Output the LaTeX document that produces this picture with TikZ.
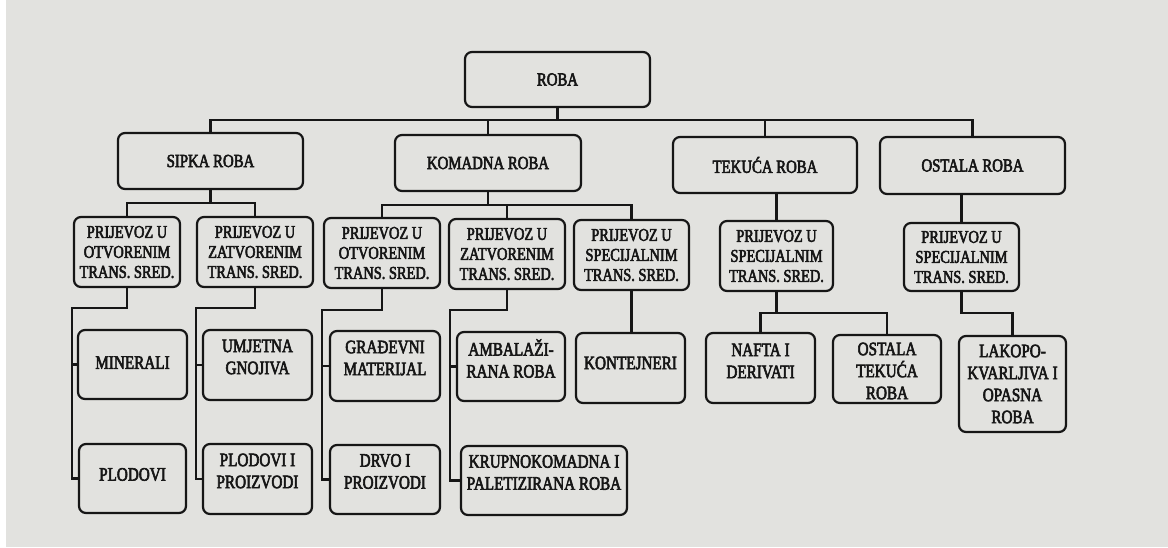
\documentclass[tikz,border=0pt]{standalone}
\usepackage{fontspec}
\setmainfont{Liberation Serif}[FakeStretch=0.8, FakeBold=3]
\definecolor{paper}{RGB}{226,226,223}
\definecolor{ink}{RGB}{22,22,22}
\begin{document}
\begin{tikzpicture}[x=1pt,y=-1pt,
  conn/.style={draw=ink, line width=2.2pt},
  box/.style 2 args={draw=ink, line width=2.2pt, rounded corners=7pt, minimum width=#1pt, minimum height=#2pt, inner sep=0pt},
  t0/.style={align=center, text=ink, font=\fontsize{18.5}{20}\selectfont},
  t1/.style={align=center, text=ink, font=\fontsize{18}{20}\selectfont},
  t2/.style={align=center, text=ink, font=\fontsize{19}{22}\selectfont}]
\useasboundingbox (0,0) rectangle (1168,547);
\fill[paper] (0,0) rectangle (1168,547);
\fill[white] (0,0) rectangle (6,547);

% level 0 / 1
\node[box={185}{55}, label={[t0]center:ROBA}] (roba) at (557.5,79.5) {};
\node[box={185}{56}, label={[t0]center:SIPKA ROBA}] (sipka) at (210.5,161) {};
\node[box={186}{56}, label={[t0]center:KOMADNA ROBA}] (komadna) at (488,163) {};
\node[box={184}{56}, label={[t0]center:TEKUĆA ROBA}] (tekuca) at (765,165) {};
\node[box={185}{57}, label={[t0]center:OSTALA ROBA}] (ostala) at (972.5,165.5) {};

% level 2
\node[box={106}{70}, label={[t1]center:PRIJEVOZ U\\OTVORENIM\\TRANS. SRED.}] (p1) at (127,252) {};
\node[box={116}{70}, label={[t1]center:PRIJEVOZ U\\ZATVORENIM\\TRANS. SRED.}] (p2) at (255,252) {};
\node[box={116}{70}, label={[t1]center:PRIJEVOZ U\\OTVORENIM\\TRANS. SRED.}] (p3) at (382,253) {};
\node[box={116}{70}, label={[t1]center:PRIJEVOZ U\\ZATVORENIM\\TRANS. SRED.}] (p4) at (507,254) {};
\node[box={115}{70}, label={[t1]center:PRIJEVOZ U\\SPECIJALNIM\\TRANS. SRED.}] (p5) at (631.5,255) {};
\node[box={113}{70}, label={[t1]center:PRIJEVOZ U\\SPECIJALNIM\\TRANS. SRED.}] (p6) at (776.5,256) {};
\node[box={115}{68}, label={[t1]center:PRIJEVOZ U\\SPECIJALNIM\\TRANS. SRED.}] (p7) at (961.5,257) {};

% level 3
\node[box={109}{69}, label={[t2,yshift=2pt]center:MINERALI}] (minerali) at (132.5,364.5) {};
\node[box={107}{69}, label={[t2,yshift=4pt]center:PLODOVI}] (plodovi) at (132.5,478.5) {};
\node[box={109}{70}, label={[t2,yshift=8pt]center:UMJETNA\\GNOJIVA}] (umjetna) at (257.5,365) {};
\node[box={109}{70}, label={[t2,yshift=8pt]center:PLODOVI I\\PROIZVODI}] (plodproiz) at (257.5,479) {};
\node[box={110}{70}, label={[t2,yshift=8pt]center:GRAĐEVNI\\MATERIJAL}] (gradj) at (385,366) {};
\node[box={110}{69}, label={[t2,yshift=8pt]center:DRVO I\\PROIZVODI}] (drvo) at (385,479.5) {};
\node[box={108}{69}, label={[t2,yshift=8pt]center:AMBALAŽI-\\RANA ROBA}] (ambal) at (511,366.5) {};
\node[box={166}{69}, label={[t2,yshift=8pt]center:KRUPNOKOMADNA I\\PALETIZIRANA ROBA}] (krupno) at (544,480.5) {};
\node[box={109}{70}, label={[t2,yshift=5pt]center:KONTEJNERI}] (kont) at (630.5,368) {};
\node[box={109}{70}, label={[t2,yshift=7pt]center:NAFTA I\\DERIVATI}] (nafta) at (760.5,368) {};
\node[box={108}{68}, label={[t2,yshift=-2pt]center:OSTALA\\TEKUĆA\\ROBA}] (ostek) at (887,369) {};
\node[box={107}{96}, label={[t2]center:LAKOPO-\\KVARLJIVA I\\OPASNA\\ROBA}] (lakopo) at (1012.5,384) {};

% connectors level 0 -> 1
\coordinate (tr) at (557.5,120);
\draw[conn] (roba.south) -- (tr);
\draw[conn] (sipka.north) |- (tr) -| (ostala.north);
\draw[conn] (komadna.north) -- (komadna.north |- tr);
\draw[conn] (tekuca.north) -- (tekuca.north |- tr);

% level 1 -> 2
\coordinate (s1) at (210.5,203);
\draw[conn] (sipka.south) -- (s1);
\draw[conn] (p1.north) |- (s1) -| (p2.north);
\coordinate (k1) at (488,205);
\draw[conn] (komadna.south) -- (k1);
\draw[conn] (p3.north) |- (k1) -| (p5.north);
\draw[conn] (p4.north) -- (p4.north |- k1);
\draw[conn] (tekuca.south -| p6.north) -- (p6.north);
\draw[conn] (ostala.south -| p7.north) -- (p7.north);

% level 2 -> 3
\coordinate (a1) at (72,308);
\draw[conn] (p1.south) |- (a1) |- (plodovi.west);
\draw[conn] (minerali.west) -- (minerali.west -| a1);
\coordinate (a2) at (196,308);
\draw[conn] (p2.south) |- (a2) |- (plodproiz.west);
\draw[conn] (umjetna.west) -- (umjetna.west -| a2);
\coordinate (a3) at (322,310);
\draw[conn] (p3.south) |- (a3) |- (drvo.west);
\draw[conn] (gradj.west) -- (gradj.west -| a3);
\coordinate (a4) at (450,310);
\draw[conn] (p4.south) |- (a4) |- (krupno.west);
\draw[conn] (ambal.west) -- (ambal.west -| a4);
\draw[conn] (p5.south) -- (p5.south |- kont.north);
\coordinate (b6) at (776.5,313);
\draw[conn] (p6.south) -- (b6);
\draw[conn] (nafta.north) |- (b6) -| (ostek.north);
\coordinate (b7) at (961.5,313);
\draw[conn] (p7.south) -- (b7) -| (lakopo.north);
\end{tikzpicture}
\end{document}
